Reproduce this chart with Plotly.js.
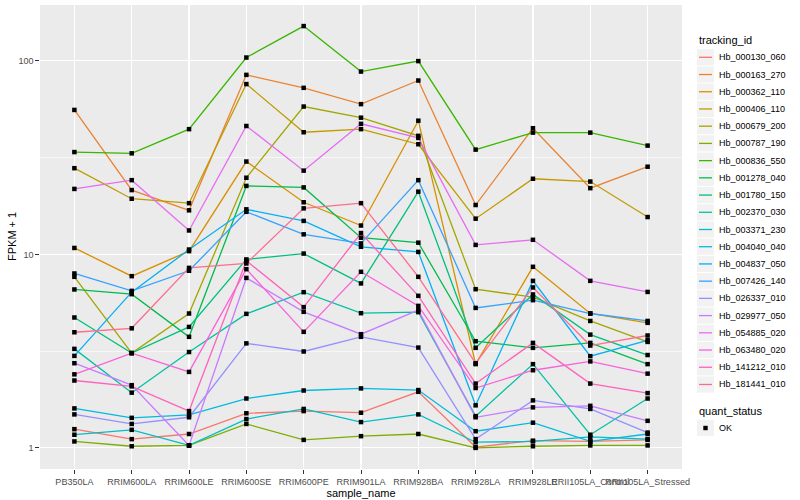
<!DOCTYPE html>
<html><head><meta charset="utf-8">
<script src="https://cdn.plot.ly/plotly-3.0.1.min.js"></script>
<style>html,body{margin:0;padding:0;background:#fff}#chart{width:800px;height:500px}</style>
</head><body><div id="chart"></div>
<script>
const categories = ['PB350LA','RRIM600LA','RRIM600LE','RRIM600SE','RRIM600PE','RRIM901LA','RRIM928BA','RRIM928LA','RRIM928LE','RRII105LA_Control','RRII105LA_Stressed'];

const Hb_000130_060 = [1.25, 1.11, 1.18, 1.51, 1.55, 1.52, 1.95, 1.01, 1.09, 1.08, 1.10];
const Hb_000163_270 = [55.8, 21.5, 16.9, 84.7, 72.6, 59.8, 79.2, 18.0, 44.9, 22.0, 28.4];
const Hb_000362_110 = [10.8, 7.72, 10.4, 30.2, 18.6, 14.1, 49.1, 2.71, 8.63, 4.95, 4.43];
const Hb_000406_110 = [27.9, 19.4, 18.4, 75.9, 42.8, 44.4, 37.1, 15.3, 24.6, 23.8, 15.6];
const Hb_000679_200 = [7.66, 3.09, 4.95, 24.9, 58.1, 50.9, 41.0, 6.61, 6.01, 4.53, 3.53];
const Hb_000787_190 = [1.08, 1.02, 1.03, 1.33, 1.10, 1.15, 1.18, 1.00, 1.02, 1.03, 1.03];
const Hb_000836_550 = [33.8, 33.3, 44.4, 104.1, 151.4, 88.1, 99.8, 34.8, 42.6, 42.6, 36.5];
const Hb_001278_040 = [6.59, 6.23, 3.75, 22.6, 22.2, 12.2, 11.5, 3.56, 3.29, 3.49, 2.71];
const Hb_001780_150 = [4.72, 3.09, 4.22, 9.42, 10.1, 7.08, 21.1, 3.29, 6.21, 3.85, 3.02];
const Hb_002370_030 = [3.25, 1.93, 3.13, 4.93, 6.38, 4.97, 5.03, 1.46, 2.71, 1.17, 1.80];
const Hb_003371_230 = [1.17, 1.24, 1.03, 1.41, 1.59, 1.36, 1.49, 1.07, 1.08, 1.14, 1.11];
const Hb_004040_040 = [1.60, 1.43, 1.48, 1.80, 1.98, 2.03, 1.99, 1.22, 1.35, 1.08, 1.18];
const Hb_004837_050 = [2.99, 6.38, 10.6, 17.1, 14.9, 10.95, 10.3, 1.66, 7.30, 2.98, 3.60];
const Hb_007426_140 = [7.97, 6.48, 8.23, 16.6, 12.7, 11.4, 24.2, 5.29, 5.80, 4.95, 4.53];
const Hb_026337_010 = [1.49, 1.33, 1.44, 3.47, 3.15, 3.75, 3.30, 1.11, 1.76, 1.59, 1.20];
const Hb_029977_050 = [2.74, 2.11, 1.03, 7.56, 5.05, 3.87, 5.15, 1.44, 1.62, 1.65, 1.38];
const Hb_054885_020 = [21.8, 24.2, 13.3, 46.1, 27.1, 47.3, 40.0, 11.2, 11.9, 7.30, 6.40];
const Hb_063480_020 = [2.40, 3.09, 2.47, 8.39, 3.98, 8.13, 5.42, 2.04, 2.52, 2.80, 2.42];
const Hb_141212_010 = [2.23, 2.08, 1.55, 9.27, 5.34, 12.9, 6.11, 2.15, 3.49, 2.15, 1.92];
const Hb_181441_010 = [3.96, 4.15, 8.52, 8.98, 17.3, 18.4, 7.66, 2.74, 6.75, 3.38, 3.81];

const trackingIds = ['Hb_000130_060','Hb_000163_270','Hb_000362_110','Hb_000406_110','Hb_000679_200','Hb_000787_190','Hb_000836_550','Hb_001278_040','Hb_001780_150','Hb_002370_030','Hb_003371_230','Hb_004040_040','Hb_004837_050','Hb_007426_140','Hb_026337_010','Hb_029977_050','Hb_054885_020','Hb_063480_020','Hb_141212_010','Hb_181441_010'];
const seriesValues = [Hb_000130_060, Hb_000163_270, Hb_000362_110, Hb_000406_110, Hb_000679_200, Hb_000787_190, Hb_000836_550, Hb_001278_040, Hb_001780_150, Hb_002370_030, Hb_003371_230, Hb_004040_040, Hb_004837_050, Hb_007426_140, Hb_026337_010, Hb_029977_050, Hb_054885_020, Hb_063480_020, Hb_141212_010, Hb_181441_010];
const lineColors = ['#F8766D','#EA8331','#D89000','#C09B00','#A3A500','#7CAE00','#39B600','#00BB4E','#00BF7D','#00C1A3','#00BFC4','#00BAE0','#00B0F6','#35A2FF','#9590FF','#C77CFF','#E76BF3','#FA62DB','#FF62BC','#FF6C91'];
const quantStatus = 'OK';
const yTickVals = [1, 10, 100];
const yTickText = ['1', '10', '100'];
const yMinorGrid = [Math.sqrt(10), Math.sqrt(1000)];

// plot-area geometry in pixels (for legend placement)
const M = {l: 40, r: 118, t: 5, b: 31};
const W = 800, H = 500;
const pw = W - M.l - M.r, ph = H - M.t - M.b;
const px2x = p => (p - M.l) / pw;
const py2y = p => (H - M.b - p) / ph;

const traces = [];
trackingIds.forEach((id, i) => {
  traces.push({
    type: 'scatter', mode: 'lines', name: id,
    x: categories, y: seriesValues[i],
    line: {color: lineColors[i], width: 1.3},
    hoverinfo: 'skip', showlegend: false
  });
});
const ptsX = [], ptsY = [];
seriesValues.forEach(vals => { vals.forEach((v, j) => { ptsX.push(categories[j]); ptsY.push(v); }); });
traces.push({
  type: 'scatter', mode: 'markers', name: quantStatus,
  x: ptsX, y: ptsY,
  marker: {color: '#000000', size: 4.5, symbol: 'square'},
  hoverinfo: 'skip', showlegend: false
});

// manual ggplot-style legends
const shapes = [], annotations = [];
const keyL = 697, keyR = 714, keyH = 17.2, firstY = 57.3, step = 17.22;
annotations.push({xref: 'paper', yref: 'paper', x: px2x(keyL), y: py2y(40), xanchor: 'left', yanchor: 'middle',
  text: 'tracking_id', showarrow: false, font: {size: 11, color: '#000000'}});
trackingIds.forEach((id, i) => {
  const cy = firstY + step * i;
  shapes.push({type: 'rect', xref: 'paper', yref: 'paper', x0: px2x(keyL), x1: px2x(keyR),
    y0: py2y(cy - keyH / 2 + 0.5), y1: py2y(cy + keyH / 2 - 0.5), fillcolor: '#F2F2F2', line: {width: 0}, layer: 'below'});
  shapes.push({type: 'line', xref: 'paper', yref: 'paper', x0: px2x(keyL + 2), x1: px2x(keyR - 2),
    y0: py2y(cy), y1: py2y(cy), line: {color: lineColors[i], width: 1.3}});
  annotations.push({xref: 'paper', yref: 'paper', x: px2x(717), y: py2y(cy), xanchor: 'left', yanchor: 'middle',
    text: id, showarrow: false, font: {size: 9, color: '#000000'}});
});
annotations.push({xref: 'paper', yref: 'paper', x: px2x(keyL), y: py2y(411), xanchor: 'left', yanchor: 'middle',
  text: 'quant_status', showarrow: false, font: {size: 11, color: '#000000'}});
shapes.push({type: 'rect', xref: 'paper', yref: 'paper', x0: px2x(keyL), x1: px2x(keyR),
  y0: py2y(428 - keyH / 2 + 0.5), y1: py2y(428 + keyH / 2 - 0.5), fillcolor: '#F2F2F2', line: {width: 0}, layer: 'below'});
shapes.push({type: 'rect', xref: 'paper', yref: 'paper', x0: px2x(703.3), x1: px2x(707.7),
  y0: py2y(430.2), y1: py2y(425.8), fillcolor: '#000000', line: {width: 0}});
annotations.push({xref: 'paper', yref: 'paper', x: px2x(717), y: py2y(428), xanchor: 'left', yanchor: 'middle',
  text: quantStatus, showarrow: false, font: {size: 9, color: '#000000'}});
// y axis title placed like ggplot
annotations.push({xref: 'paper', yref: 'paper', x: px2x(12), y: 0.5, xanchor: 'center', yanchor: 'middle',
  text: 'FPKM + 1', textangle: -90, showarrow: false, font: {size: 11, color: '#000000'}});

const layout = {
  width: W, height: H,
  margin: M,
  paper_bgcolor: '#FFFFFF', plot_bgcolor: '#EBEBEB',
  font: {family: 'Liberation Sans, Arial, sans-serif', size: 9, color: '#4D4D4D'},
  showlegend: false,
  xaxis: {
    type: 'category', categoryorder: 'array', categoryarray: categories,
    range: [-0.6, 10.6], showgrid: true, gridcolor: '#FFFFFF', gridwidth: 1.1,
    zeroline: false, showline: false, ticks: 'outside', ticklen: 3.7, tickwidth: 1,
    tickcolor: '#333333', tickangle: 0, tickfont: {size: 9, color: '#4D4D4D'},
    title: {text: 'sample_name', font: {size: 11, color: '#000000'}, standoff: 3},
    fixedrange: true
  },
  yaxis: {
    type: 'log', range: [-0.109, 2.289],
    tickmode: 'array', tickvals: yTickVals, ticktext: yTickText,
    showgrid: true, gridcolor: '#FFFFFF', gridwidth: 1.1, zeroline: false, showline: false,
    ticks: 'outside', ticklen: 3.7, tickwidth: 1, tickcolor: '#333333',
    tickfont: {size: 9, color: '#4D4D4D'},
    minor: {tickmode: 'array', tickvals: yMinorGrid, showgrid: true, gridcolor: '#FFFFFF', gridwidth: 0.55, ticks: ''},
    fixedrange: true
  },
  shapes: shapes,
  annotations: annotations
};

Plotly.newPlot('chart', traces, layout, {displayModeBar: false, staticPlot: true});
</script>
</body></html>
